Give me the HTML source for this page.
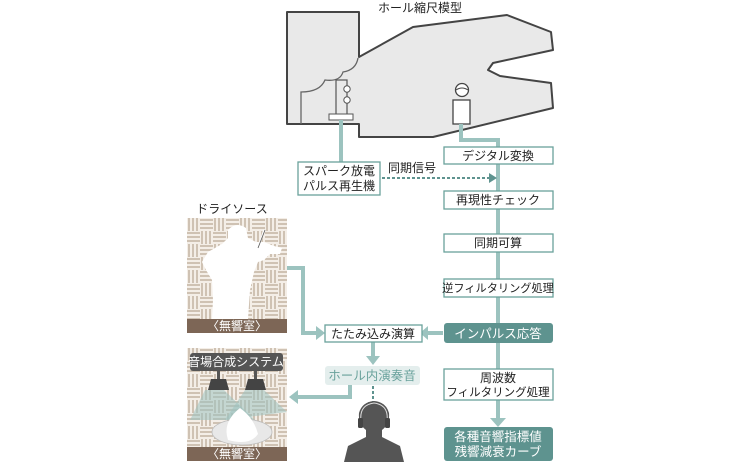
<!DOCTYPE html>
<html><head><meta charset="utf-8">
<style>
html,body{margin:0;padding:0;background:#fff;}
svg{display:block;font-family:"Liberation Sans","Noto Sans CJK JP",sans-serif;}
</style></head>
<body>
<svg width="740" height="462" viewBox="0 0 740 462" xmlns="http://www.w3.org/2000/svg">
<defs>
<pattern id="weave" x="187" y="218" width="26" height="26" patternUnits="userSpaceOnUse">
<rect width="26" height="26" fill="#f4eee7"/>
<g fill="#cfc2b3">
<rect x="1" y="0" width="2" height="13"/><rect x="5" y="0" width="2" height="13"/><rect x="9" y="0" width="2" height="13"/>
<rect x="13" y="1" width="13" height="2"/><rect x="13" y="5" width="13" height="2"/><rect x="13" y="9" width="13" height="2"/>
<rect x="0" y="14" width="13" height="2"/><rect x="0" y="18" width="13" height="2"/><rect x="0" y="22" width="13" height="2"/>
<rect x="14" y="13" width="2" height="13"/><rect x="18" y="13" width="2" height="13"/><rect x="22" y="13" width="2" height="13"/>
</g>
</pattern>
</defs>

<text x="420" y="12" font-size="12" text-anchor="middle" fill="#222">ホール縮尺模型</text>

<path d="M287,12 L359,12 L359,57 L413,27 L507,15 L551,32 L553,50 L493,63 L488,70 L500,76 L551,83 L553,108 L433,137 L359,137 L359,124 L287,124 Z" fill="#e9e9e9" stroke="#444" stroke-width="2" stroke-linejoin="round"/>
<path d="M301,124 L301,92 Q320,92 325,80 Q340,82 343,72 Q356,70 358,58" fill="none" stroke="#666" stroke-width="1.3"/>
<rect x="336" y="80" width="11" height="35" fill="none" stroke="#555" stroke-width="1.2"/>
<circle cx="347" cy="89" r="3.2" fill="#fff" stroke="#555" stroke-width="1"/>
<circle cx="347" cy="100" r="3.2" fill="#fff" stroke="#555" stroke-width="1"/>
<rect x="329" y="114" width="24" height="6" fill="#fff" stroke="#555" stroke-width="1"/>
<circle cx="462" cy="90" r="6.5" fill="#fff" stroke="#444" stroke-width="1.3"/>
<path d="M456,90 Q462,86 468,90" fill="none" stroke="#444" stroke-width="1"/>
<rect x="453" y="100" width="17" height="24" fill="#fff" stroke="#444" stroke-width="1.3"/>

<g stroke="#9cc3bf" stroke-width="4" fill="none">
<path d="M341,120 L341,162"/>
<path d="M461,124 L461,140 L498,140 L498,420"/>
<path d="M287,268 L303,268 L303,333 L316,333"/>
<path d="M443,333 L428,333"/>
<path d="M373,342 L373,356"/>
<path d="M350,385 L350,397 L298,397"/>
</g>
<g fill="#9cc3bf">
<polygon points="316,326 325,333 316,340"/>
<polygon points="428,326 420,333 428,340"/>
<polygon points="366,356 380,356 373,365"/>
<polygon points="298,390 289,397 298,404"/>
<polygon points="490,418 506,418 498,427"/>
</g>
<line x1="382" y1="178" x2="490" y2="178" stroke="#5e938f" stroke-width="2" stroke-dasharray="3,2"/>
<polygon points="489,173 497,178 489,183" fill="#5e938f"/>
<line x1="373" y1="386" x2="373" y2="402" stroke="#5e938f" stroke-width="2" stroke-dasharray="3,2"/>
<polygon points="368,402 378,402 373,409" fill="#5e938f"/>

<g fill="#fff" stroke="#6aa29c" stroke-width="1.3">
<rect x="444" y="147" width="109" height="17"/>
<rect x="444" y="191" width="109" height="18"/>
<rect x="444" y="234" width="109" height="18"/>
<rect x="444" y="279" width="109" height="18"/>
<rect x="444" y="369" width="109" height="31"/>
<rect x="298" y="162" width="82" height="33"/>
<rect x="325" y="325" width="97" height="17"/>
</g>
<rect x="444" y="323" width="109" height="20" rx="3" fill="#5e938f"/>
<rect x="444" y="427" width="109" height="34" rx="3" fill="#5e938f"/>
<rect x="325" y="366" width="95" height="19" rx="3" fill="#e4eeed"/>

<g font-size="12" fill="#222" text-anchor="middle">
<text x="498" y="160">デジタル変換</text>
<text x="498" y="204">再現性チェック</text>
<text x="498" y="247">同期可算</text>
<text x="498" y="292" font-size="11.2">逆フィルタリング処理</text>
<text x="498" y="382">周波数</text>
<text x="498" y="396" font-size="11.5">フィルタリング処理</text>
<text x="339" y="175">スパーク放電</text>
<text x="339" y="190">パルス再生機</text>
<text x="373" y="338">たたみ込み演算</text>
<text x="232" y="213">ドライソース</text>
</g>
<text x="388" y="172" font-size="12" fill="#222">同期信号</text>
<g font-size="12.5" fill="#fff" text-anchor="middle">
<text x="498" y="338">インパルス応答</text>
<text x="498" y="441">各種音響指標値</text>
<text x="498" y="456">残響減衰カーブ</text>
</g>
<text x="372" y="380" font-size="12.5" fill="#6aa29c" text-anchor="middle">ホール内演奏音</text>

<rect x="187" y="218" width="100" height="101" fill="url(#weave)"/>
<rect x="187" y="319" width="100" height="14" fill="#7d6656"/>
<text x="237" y="330" font-size="12" fill="#fff" text-anchor="middle">〈無響室〉</text>
<path d="M228,230 Q236,221 246,228 L248,238 L256,242 L264,242 L274,246 L282,248 L280,254 L270,254 L264,260 L258,262 L254,272 L250,290 L248,319 L212,319 L213,300 L212,280 L206,270 L202,262 L208,252 L222,244 L228,238 Z" fill="#fff"/>
<line x1="264" y1="230" x2="254" y2="262" stroke="#fff" stroke-width="1.8"/>
<line x1="258" y1="248" x2="265" y2="230" stroke="#555" stroke-width="0.8"/>

<rect x="187" y="348" width="100" height="99" fill="url(#weave)"/>
<polygon points="205,390 224,390 255,420 190,420" fill="#9cc3bf" opacity="0.55"/>
<polygon points="245,390 264,390 287,412 225,420" fill="#9cc3bf" opacity="0.55"/>
<rect x="187" y="447" width="100" height="14" fill="#7d6656"/>
<text x="237" y="458" font-size="12" fill="#fff" text-anchor="middle">〈無響室〉</text>
<rect x="190" y="353" width="93" height="18" rx="3" fill="#555"/>
<text x="236" y="366" font-size="12" fill="#fff" text-anchor="middle">音場合成システム</text>
<rect x="217" y="371" width="3" height="8" fill="#555"/><polygon points="211,379 226,379 229,390 208,390" fill="#444"/>
<rect x="254" y="371" width="3" height="8" fill="#555"/><polygon points="248,379 263,379 266,390 245,390" fill="#444"/>
<ellipse cx="242" cy="432" rx="30" ry="13" fill="#e8e8e8" stroke="#bbb" stroke-width="0.8"/>
<path d="M228,440 Q222,422 240,408 Q254,418 258,434 Q250,446 228,440 Z" fill="#fff"/>

<path d="M344,462 L348,446 Q360,440 366,437 L366,430 Q358,424 359,413 Q362,402 374,401 Q386,402 389,413 Q390,424 382,430 L382,437 Q388,440 400,446 L404,462 Z" fill="#555"/>
<path d="M361,421 Q359,405 374,403 Q389,405 387,421" fill="none" stroke="#ddd" stroke-width="1"/>
<rect x="358" y="418" width="5" height="10" rx="1.5" fill="#444"/>
<rect x="385" y="418" width="5" height="10" rx="1.5" fill="#444"/>
</svg>
</body></html>
